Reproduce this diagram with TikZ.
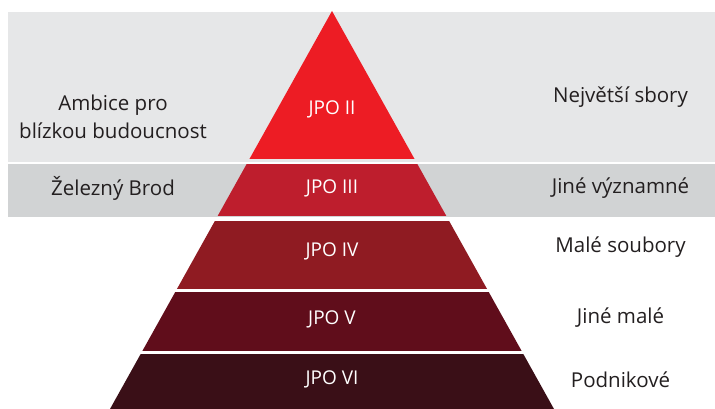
\documentclass[tikz,border=0pt]{standalone}
\usepackage{fontspec}
\setmainfont{Open Sans}
\usepackage{tikz}

\definecolor{bandlight}{RGB}{230,231,232}
\definecolor{banddark}{RGB}{209,211,212}
\definecolor{jpoII}{RGB}{237,28,36}
\definecolor{jpoIII}{RGB}{190,30,45}
\definecolor{jpoIV}{RGB}{143,27,34}
\definecolor{jpoV}{RGB}{96,13,27}
\definecolor{jpoVI}{RGB}{58,15,23}
\definecolor{labeltext}{RGB}{35,31,32}

\tikzset{
    jpolabel/.style={text=white, font=\fontsize{19}{22}\selectfont, inner sep=0pt},
    sidelabel/.style={text=labeltext, font=\fontsize{20.5}{27.5}\selectfont, inner sep=0pt, align=center}
}

\begin{document}
\begin{tikzpicture}[x=1pt,y=1pt,yscale=-1]
    \useasboundingbox (0,0) rectangle (715,409); %same size as the reference, in px

    %Shape: Rectangle (upper band)
    \fill [bandlight] (8,12) rectangle (715,162.5);
    %Shape: Rectangle (lower band)
    \fill [banddark] (8,164.5) rectangle (715,216.5);

    %Pyramid, cut into levels
    \begin{scope}
    \clip (332,11) -- (554,409) -- (110,409) -- cycle;
    \fill [jpoII] (0,0) rectangle (715,159.5);
    \fill [jpoIII] (0,164) rectangle (715,216);
    \fill [jpoIV] (0,220.5) rectangle (715,288.5);
    \fill [jpoV] (0,291.5) rectangle (715,351);
    \fill [jpoVI] (0,354) rectangle (715,409);
    \end{scope}

    % Text Node
    \node [jpolabel] (lvlII) at (332,109) {JPO II};
    % Text Node
    \node [jpolabel] (lvlIII) at (332,188.5) {JPO III};
    % Text Node
    \node [jpolabel] (lvlIV) at (332,251) {JPO IV};
    % Text Node
    \node [jpolabel] (lvlV) at (332,319.5) {JPO V};
    % Text Node
    \node [jpolabel] (lvlVI) at (332,379.5) {JPO VI};

    % Text Node
    \node [sidelabel] (ambice) at (113,117) {Ambice pro\\blízkou budoucnost};
    % Text Node
    \node [sidelabel] (brod) at (113,188) {Železný Brod};

    % Text Node
    \node [sidelabel] (nejvetsi) at (620.5,97) {Největší sbory};
    % Text Node
    \node [sidelabel] (vyznamne) at (620.5,188) {Jiné významné};
    % Text Node
    \node [sidelabel] (soubory) at (620.5,247) {Malé soubory};
    % Text Node
    \node [sidelabel] (jinemale) at (620.5,318) {Jiné malé};
    % Text Node
    \node [sidelabel] (podnikove) at (620.5,380) {Podnikové};
\end{tikzpicture}
\end{document}
